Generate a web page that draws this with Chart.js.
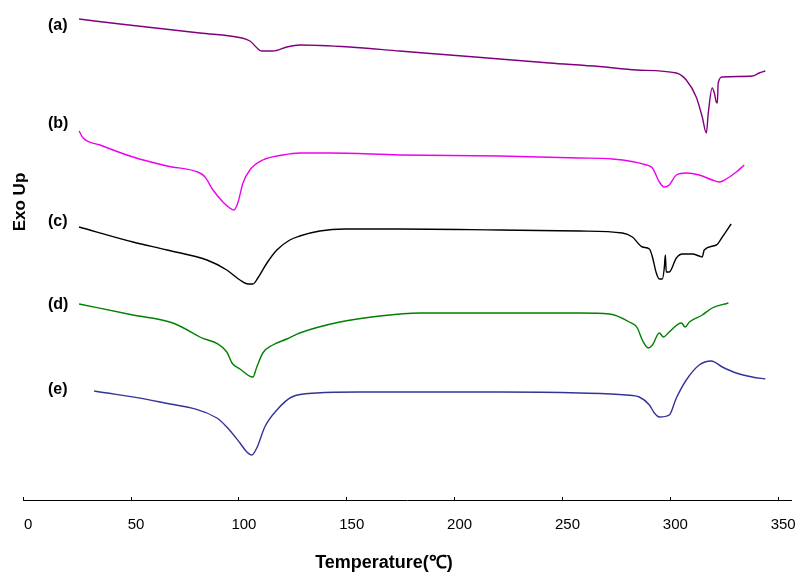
<!DOCTYPE html>
<html>
<head>
<meta charset="utf-8">
<script src="https://cdn.jsdelivr.net/npm/chart.js@4"></script>
<style>
  body { margin: 0; background: #fff; }
  #box { width: 810px; height: 586px; }
</style>
</head>
<body>
<div id="box"><canvas id="dsc"></canvas></div>
<script>
// DSC curves, temperature in C, heat flow in arbitrary units (offset per curve)
const tempTicks = [0, 50, 100, 150, 200, 250, 300, 350];
const curveNames = ['(a)', '(b)', '(c)', '(d)', '(e)'];
const curveColors = ['#800080', '#ee00ee', '#000000', '#008000', '#333399'];
const nameY = [47.2, 37.4, 27.6, 19.3, 10.8];

const tempA = [25.9, 44.9, 63.4, 81.9, 101.4, 105.1, 110.6, 115.7, 122.2, 128.2, 151.4, 174.5, 197.7, 220.8, 244.0, 267.1, 284.3, 302.8, 307.4, 312.0, 314.8, 316.7, 317.6, 319.4, 320.4, 321.3, 321.8, 322.2, 324.1, 338.0, 341.2, 344.0];
const heatA = [47.9, 47.4, 46.95, 46.5, 46.0, 45.7, 44.7, 44.7, 45.1, 45.3, 45.1, 44.7, 44.3, 43.9, 43.5, 43.15, 42.8, 42.5, 41.8, 40.1, 38.1, 36.5, 38.5, 41.0, 40.5, 39.6, 39.5, 41.5, 42.1, 42.2, 42.5, 42.7];

const tempB = [25.9, 27.8, 35.6, 50.9, 66.7, 81.9, 84.3, 88.0, 92.6, 95.8, 97.7, 99.5, 101.9, 105.1, 111.1, 120.4, 128.2, 142.1, 174.5, 220.8, 257.9, 273.1, 288.9, 291.7, 294.9, 297.2, 299.5, 302.8, 307.4, 313.4, 319.4, 322.7, 325.9, 330.6, 334.3];
const heatB = [36.7, 36.0, 35.3, 34.1, 33.2, 32.5, 32.1, 30.8, 29.6, 29.0, 28.8, 29.5, 31.5, 32.8, 33.8, 34.3, 34.5, 34.5, 34.3, 34.2, 34.0, 33.9, 33.3, 33.0, 31.6, 31.1, 31.3, 32.3, 32.5, 32.3, 31.8, 31.6, 31.9, 32.6, 33.3];

const tempC = [25.9, 50.9, 66.7, 85.2, 94.4, 100.5, 104.2, 106.5, 108.8, 113.0, 117.6, 123.6, 128.2, 137.5, 149.1, 174.5, 220.8, 257.9, 277.8, 282.4, 287.0, 290.3, 291.7, 293.5, 294.9, 296.3, 297.2, 297.7, 298.1, 299.5, 302.8, 305.6, 310.2, 313.4, 314.8, 315.7, 321.3, 324.1, 328.2];
const heatC = [27.1, 25.6, 24.8, 23.8, 22.8, 21.8, 21.4, 21.4, 22.0, 23.5, 24.8, 25.8, 26.2, 26.7, 26.9, 26.9, 26.8, 26.7, 26.5, 26.1, 25.1, 24.9, 24.1, 22.5, 21.9, 21.9, 23.0, 24.3, 22.6, 22.6, 24.0, 24.4, 24.4, 24.2, 24.1, 24.8, 25.3, 26.1, 27.4];

const tempD = [25.9, 50.9, 69.4, 81.9, 94.4, 96.8, 100.5, 106.5, 108.3, 111.1, 115.7, 122.2, 128.2, 146.8, 165.3, 183.8, 220.8, 257.9, 271.8, 281.0, 284.7, 287.0, 289.8, 291.7, 294.9, 296.8, 299.5, 305.1, 306.9, 308.8, 314.8, 319.4, 326.9];
const heatD = [19.4, 18.3, 17.5, 16.1, 14.6, 13.5, 12.9, 12.1, 13.1, 14.5, 15.3, 15.9, 16.5, 17.6, 18.2, 18.5, 18.5, 18.5, 18.4, 17.6, 17.0, 15.8, 15.0, 15.3, 16.5, 16.1, 16.6, 17.5, 17.1, 17.6, 18.3, 19.0, 19.5];

const tempE = [32.9, 63.4, 89.8, 94.4, 100.5, 103.7, 106.0, 108.3, 112.0, 117.6, 124.5, 136.1, 156.0, 220.8, 257.9, 279.6, 285.6, 290.3, 292.6, 294.9, 299.5, 302.8, 307.4, 313.4, 319.0, 324.1, 330.6, 338.0, 344.0];
const heatE = [10.7, 9.6, 8.0, 7.1, 5.5, 4.6, 4.3, 5.0, 7.1, 8.8, 10.1, 10.5, 10.6, 10.6, 10.5, 10.3, 10.1, 9.3, 8.5, 8.1, 8.3, 10.0, 11.8, 13.3, 13.7, 13.1, 12.5, 12.1, 11.9];

const temps = [tempA, tempB, tempC, tempD, tempE];
const heats = [heatA, heatB, heatC, heatD, heatE];

const datasets = temps.map((t, i) => ({
    label: curveNames[i],
    data: t.map((x, j) => ({x: x, y: heats[i][j]})),
    borderColor: curveColors[i],
    borderWidth: 1.4,
    pointRadius: 0,
    cubicInterpolationMode: 'monotone',
    fill: false
}));

// curve names, axis titles
const textPlugin = {
    id: 'dscText',
    afterDraw(chart) {
        const c = chart.ctx;
        const xs = chart.scales.x, ys = chart.scales.y;
        c.save();
        c.fillStyle = '#000';
        c.font = 'bold 16px "Liberation Sans", Arial, sans-serif';
        c.textAlign = 'left';
        c.textBaseline = 'middle';
        curveNames.forEach((n, i) => {
            c.fillText(n, xs.getPixelForValue(11.5), ys.getPixelForValue(nameY[i]));
        });
        c.textAlign = 'center';
        c.font = 'bold 18px "Liberation Sans", Arial, sans-serif';
        c.fillText('Temperature(℃)', 384, 563);
        c.translate(20, 202);
        c.rotate(-Math.PI / 2);
        c.font = 'bold 17px "Liberation Sans", Arial, sans-serif';
        c.fillText('Exo Up', 0, 0);
        c.restore();
    }
};

const ctx = document.getElementById('dsc').getContext('2d');
const dscChart = new Chart(ctx, {
    type: 'line',
    data: { datasets: datasets },
    options: {
        responsive: true,
        maintainAspectRatio: false,
        animation: false,
        layout: { padding: { left: 23, right: 18, top: 10, bottom: 0 } },
        plugins: { legend: { display: false }, tooltip: { enabled: false } },
        scales: {
            x: {
                type: 'linear',
                min: 0,
                max: 356,
                afterFit(scale) { scale.height = 86; },
                afterBuildTicks(scale) { scale.ticks = tempTicks.map(v => ({value: v})); },
                border: { display: true, color: '#000', width: 1 },
                grid: { drawOnChartArea: false, drawTicks: true, tickLength: -3, color: '#000' },
                ticks: {
                    color: '#000',
                    padding: 19,
                    labelOffset: 5,
                    maxRotation: 0,
                    font: { family: '"Liberation Sans", Arial, sans-serif', size: 15 }
                }
            },
            y: {
                display: false,
                min: -0.2,
                max: 48.8
            }
        }
    },
    plugins: [textPlugin]
});
</script>
</body>
</html>
